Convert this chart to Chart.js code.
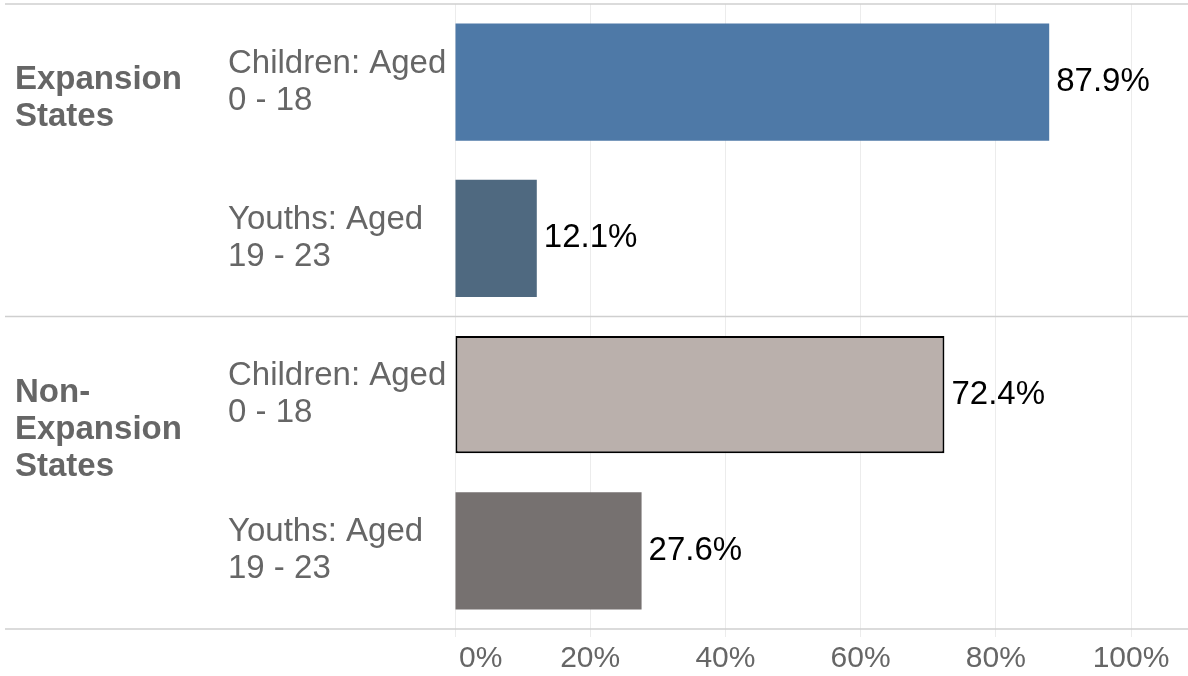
<!DOCTYPE html>
<html>
<head>
<meta charset="utf-8">
<script src="https://cdn.jsdelivr.net/npm/chart.js@4"></script>
<style>
  html, body { margin: 0; padding: 0; background: #fff; }
  #wrap { width: 1188px; height: 676px; position: relative; }
</style>
</head>
<body>
<div id="wrap"><canvas id="c"></canvas></div>
<script>
// ---- data ----
const categories = [
  ["Children: Aged", "0 - 18"],
  ["Youths: Aged", "19 - 23"],
  ["Children: Aged", "0 - 18"],
  ["Youths: Aged", "19 - 23"]
];
const values = [87.9, 12.1, 72.4, 27.6];
const valueLabels = ["87.9%", "12.1%", "72.4%", "27.6%"];
const groupLabels = [["Expansion", "States"], ["Non-", "Expansion", "States"]];
const groupStarts = [0, 2];
const xTicks = [0, 20, 40, 60, 80, 100];

const barColors = ["#4e79a7", "#4f6980", "#bab0ac", "#767170"];
const barBorders = ["rgba(0,0,0,0)", "rgba(0,0,0,0)", "#000000", "rgba(0,0,0,0)"];
const barBorderWidths = [0, 0, 2, 0];

const FONT = "'Liberation Sans', Arial, sans-serif";
const GREY = "#666666";

const decorPlugin = {
  id: 'decor',
  beforeDraw(chart) {
    // left-align the first x tick label at its gridline
    const s = chart.scales.x;
    const items = s.getLabelItems(chart.chartArea);
    if (items && items.length) {
      items[0].options.textAlign = 'left';
      items[0].options.translation[0] = s.getPixelForValue(xTicks[0]) + 4;
    }
  },
  beforeDatasetsDraw(chart) {
    const { ctx, chartArea, scales } = chart;
    const y = scales.y;
    const lines = [chartArea.top, chartArea.bottom];
    for (let i = 1; i < groupStarts.length; i++) {
      const g = groupStarts[i];
      lines.push((y.getPixelForValue(g - 1) + y.getPixelForValue(g)) / 2);
    }
    ctx.save();
    ctx.strokeStyle = "#cfcfcf";
    ctx.lineWidth = 1.5;
    lines.forEach(py => {
      ctx.beginPath();
      ctx.moveTo(5, py);
      ctx.lineTo(chart.width, py);
      ctx.stroke();
    });
    ctx.restore();
  },
  afterDatasetsDraw(chart) {
    const { ctx, scales } = chart;
    const meta = chart.getDatasetMeta(0);
    ctx.save();
    ctx.font = "33px " + FONT;
    ctx.fillStyle = "#000";
    ctx.textAlign = "left";
    ctx.textBaseline = "middle";
    meta.data.forEach((bar, i) => {
      ctx.fillText(valueLabels[i], bar.x + 7, bar.y);
    });
    // group labels
    ctx.font = "bold 33px " + FONT;
    ctx.fillStyle = GREY;
    const y = scales.y;
    groupLabels.forEach((lines, gi) => {
      const base = y.getPixelForValue(groupStarts[gi]) - 2;
      lines.forEach((t, li) => {
        ctx.fillText(t, 15, base + li * 37);
      });
    });
    ctx.restore();
  }
};

new Chart(document.getElementById('c'), {
  type: 'bar',
  data: {
    labels: categories,
    datasets: [{
      data: values,
      backgroundColor: barColors,
      borderColor: barBorders,
      borderWidth: barBorderWidths,
      borderSkipped: false,
      barPercentage: 0.75,
      categoryPercentage: 1.0
    }]
  },
  options: {
    indexAxis: 'y',
    responsive: true,
    maintainAspectRatio: false,
    animation: false,
    layout: { padding: { left: 228, right: 57, top: 4, bottom: 0 } },
    plugins: { legend: { display: false }, tooltip: { enabled: false } },
    scales: {
      x: {
        min: 0, max: 100,
        afterBuildTicks(scale) { scale.ticks = xTicks.map(v => ({ value: v })); },
        afterFit(scale) { scale.height = 47; scale.paddingLeft = 0; scale.paddingRight = 0; },
        ticks: {
          callback: v => v + "%",
          color: GREY,
          font: { family: FONT, size: 30 },
          padding: 4,
          maxRotation: 0
        },
        grid: { color: "#ececec", lineWidth: 1, drawTicks: true, tickLength: 8 },
        border: { display: false }
      },
      y: {
        afterFit(scale) { scale.width = 227; scale.paddingTop = 0; scale.paddingBottom = 0; },
        ticks: {
          crossAlign: 'far',
          color: GREY,
          font: { family: FONT, size: 33, lineHeight: 1.12 }
        },
        grid: { display: false },
        border: { display: false }
      }
    }
  },
  plugins: [decorPlugin]
});
</script>
</body>
</html>
